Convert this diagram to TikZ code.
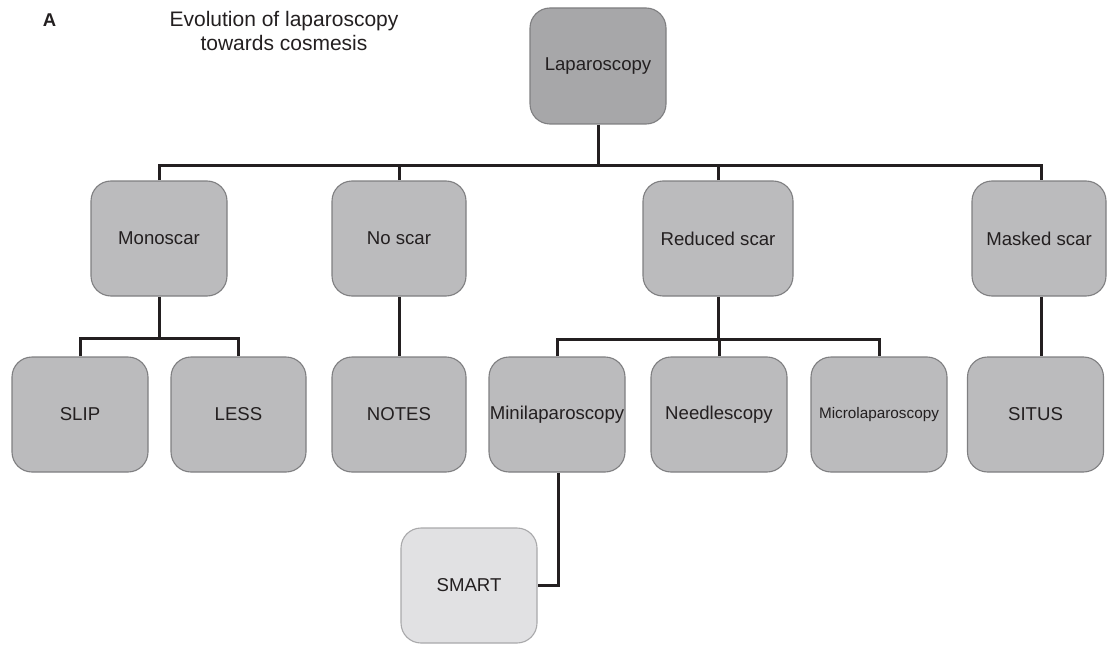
\documentclass[tikz,border=0pt]{standalone}
\usepackage{fontspec}
\setmainfont{Liberation Sans}
\definecolor{ink}{HTML}{231F20}
\definecolor{topgray}{HTML}{A7A7A9}
\definecolor{midgray}{HTML}{BBBBBD}
\definecolor{lightgray}{HTML}{E1E1E3}
\definecolor{edgegray}{HTML}{7F7F81}
\definecolor{edgelight}{HTML}{A9A9AB}
\begin{document}
\begin{tikzpicture}[x=1pt,y=-1pt,
  box/.style={draw=edgegray, line width=1.1pt, rounded corners=20pt, fill=midgray,
    minimum width=136pt, minimum height=115pt, inner sep=0pt, text=ink,
    font=\fontsize{18.6}{22}\selectfont},
  conn/.style={draw=ink, line width=3pt}]
\useasboundingbox (0,0) rectangle (1107,647);
\node[font=\bfseries\fontsize{18.5}{22}\selectfont, text=ink] (lbl) at (49.5,20) {A};
\node[align=center, font=\fontsize{21}{24}\selectfont, text=ink] (title) at (284,31) {Evolution of laparoscopy\\towards cosmesis};
\node[box, fill=topgray, minimum height=116pt] (lap) at (598,66) {Laparoscopy};
\node[box] (mono) at (159,238.5) {Monoscar};
\node[box, minimum width=134pt] (nosc) at (399,238.5) {No scar};
\node[box, minimum width=150pt] (red) at (718,238.5) {Reduced scar};
\node[box, minimum width=134pt] (mask) at (1039,238.5) {Masked scar};
\node[box] (slip) at (80,414.5) {SLIP};
\node[box, minimum width=135pt] (less) at (238.5,414.5) {LESS};
\node[box, minimum width=134pt] (notes) at (399,414.5) {NOTES};
\node[box] (mini) at (557,414.5) {Minilaparoscopy};
\node[box] (needle) at (719,414.5) {Needlescopy};
\node[box, font=\fontsize{15.3}{18}\selectfont] (micro) at (879,414.5) {Microlaparoscopy};
\node[box] (situs) at (1035.5,414.5) {SITUS};
\node[box, fill=lightgray, draw=edgelight] (smart) at (469,585.5) {SMART};
\coordinate (bar) at (598,166);
\coordinate (mbar) at (159,338);
\coordinate (rbar) at (718,339);
\draw[conn] (lap.south) -- (bar);
\draw[conn] (mono.north) |- (bar) -| ([xshift=2pt]mask.north);
\draw[conn] (nosc.north) -- (nosc.north |- bar);
\draw[conn] (red.north) -- (red.north |- bar);
\draw[conn] (mono.south) -- (mbar);
\draw[conn] (slip.north) |- (mbar) -| (less.north);
\draw[conn] (nosc.south) -- (notes.north);
\draw[conn] (red.south) -- (rbar);
\draw[conn] (mini.north) |- (rbar) -| (micro.north);
\draw[conn] (needle.north) -- (needle.north |- rbar);
\draw[conn] ([xshift=2pt]mask.south) -- ([xshift=2pt]mask.south |- situs.north);
\draw[conn] ([xshift=1pt]mini.south) |- (smart.east);
\end{tikzpicture}
\end{document}
